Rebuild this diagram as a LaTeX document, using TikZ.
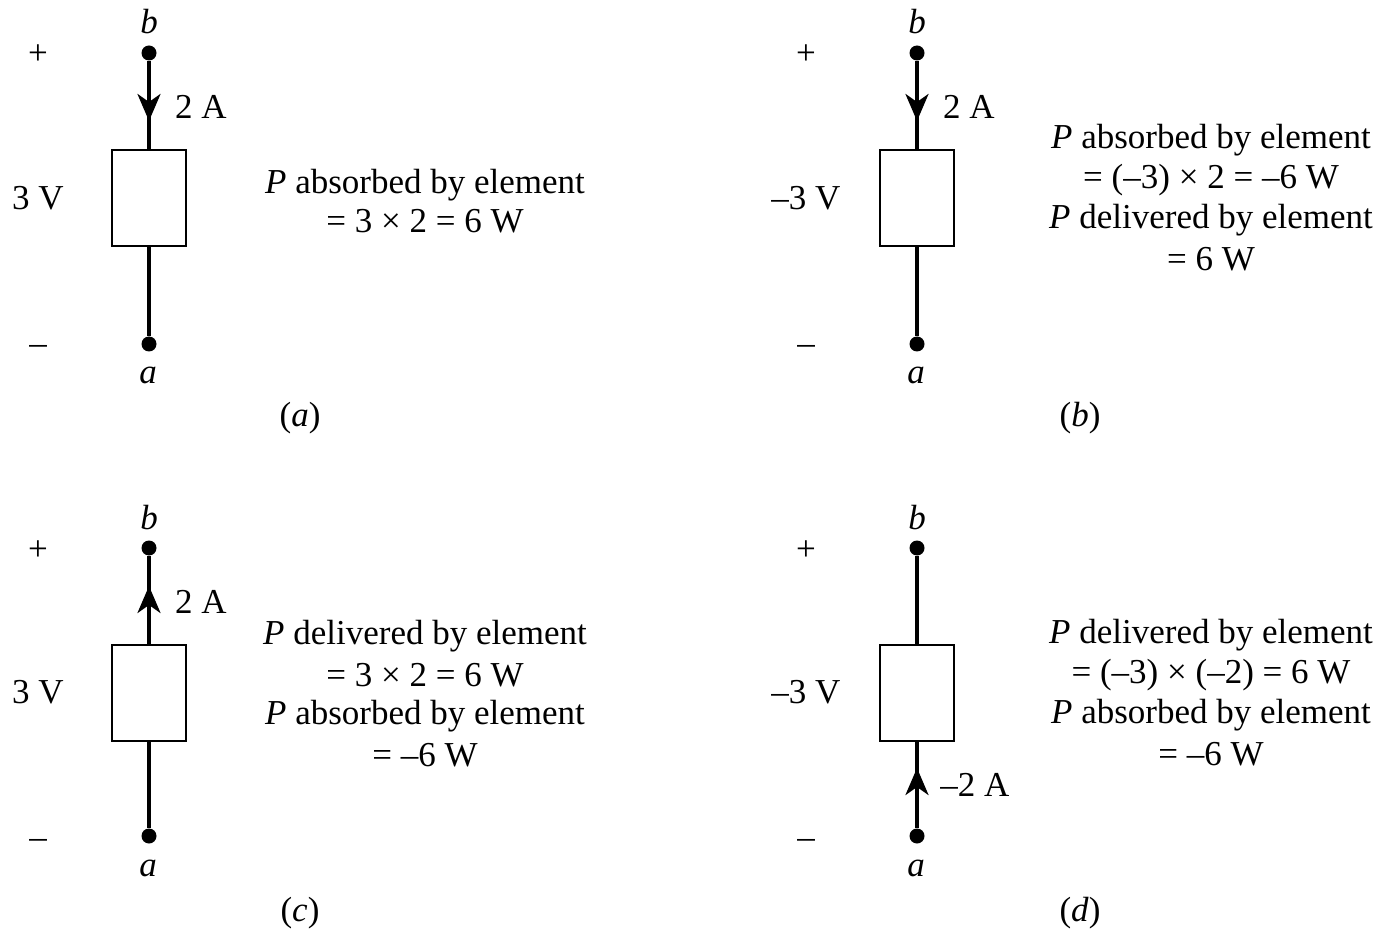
\documentclass[tikz,border=0pt]{standalone}
\usepackage{fontspec}
\setmainfont{Liberation Serif}
\usetikzlibrary{arrows.meta}
\begin{document}
\begin{tikzpicture}[x=1pt,y=-1pt,
  wire/.style={line width=3.6pt},
  elem/.style={draw,line width=2pt,minimum width=74pt,minimum height=96pt,inner sep=0pt},
  term/.style={circle,fill=black,minimum size=15pt,inner sep=0pt},
  lbl/.style={font=\fontsize{35}{40}\selectfont,inner sep=0pt},
  sgn/.style={font=\fontsize{35}{40}\selectfont,inner sep=0pt,anchor=base},
  txt/.style={font=\fontsize{35}{40}\selectfont,inner sep=0pt,align=center},
  arr/.style={line width=3.6pt,-{Stealth[length=27pt,width=23pt,inset=8pt]}}]
\useasboundingbox (0,0) rectangle (1382,933);
% ---------- (a)
\node[term] (ba) at (149,53) {};
\node[elem] (ea) at (149,198) {};
\node[term] (aa) at (149,344) {};
\coordinate (tipa) at (149,121);
\draw[wire] (ba) -- (ea.north);
\draw[arr] (ba) -- (tipa);
\draw[wire] (ea.south) -- (aa);
\node[lbl] (lba) at (149,22) {\textit{b}};
\node[lbl] (laa) at (148,375) {\textit{a}};
\node[lbl] (ia) at (201,107) {2 A};
\node[sgn] (pa) at (38,65) {+};
\node[lbl] (va) at (38,198) {3 V};
\node[sgn] (ma) at (38,355) {–};
\node[lbl] (capa) at (300,418) {(\textit{a})};
\node[txt] (ta1) at (425,185) {\textit{P} absorbed by element};
\node[txt] (ta2) at (425,221) {= 3 × 2 = 6 W};
% ---------- (b)
\node[term] (bb) at (917,53) {};
\node[elem] (eb) at (917,198) {};
\node[term] (ab) at (917,344) {};
\coordinate (tipb) at (917,121);
\draw[wire] (bb) -- (eb.north);
\draw[arr] (bb) -- (tipb);
\draw[wire] (eb.south) -- (ab);
\node[lbl] (lbb) at (917,22) {\textit{b}};
\node[lbl] (lab) at (916,375) {\textit{a}};
\node[lbl] (ib) at (969,107) {2 A};
\node[sgn] (pb) at (806,65) {+};
\node[lbl] (vb) at (806,198) {–3 V};
\node[sgn] (mb) at (806,355) {–};
\node[lbl] (capb) at (1080,418) {(\textit{b})};
\node[txt] (tb1) at (1211,140) {\textit{P} absorbed by element};
\node[txt] (tb2) at (1211,180) {= (–3) × 2 = –6 W};
\node[txt] (tb3) at (1211,220) {\textit{P} delivered by element};
\node[txt] (tb4) at (1211,259) {= 6 W};
% ---------- (c)
\node[term] (bc) at (149,548) {};
\node[elem] (ec) at (149,693) {};
\node[term] (ac) at (149,836) {};
\coordinate (tipc) at (149,586);
\draw[wire] (bc) -- (ec.north);
\draw[arr] (ec.north) -- (tipc);
\draw[wire] (ec.south) -- (ac);
\node[lbl] (lbc) at (149,518) {\textit{b}};
\node[lbl] (lac) at (148,868) {\textit{a}};
\node[lbl] (ic) at (201,602) {2 A};
\node[sgn] (pc) at (38,560) {+};
\node[lbl] (vc) at (38,692) {3 V};
\node[sgn] (mc) at (38,848) {–};
\node[lbl] (capc) at (300,913) {(\textit{c})};
\node[txt] (tc1) at (425,636) {\textit{P} delivered by element};
\node[txt] (tc2) at (425,675) {= 3 × 2 = 6 W};
\node[txt] (tc3) at (425,716) {\textit{P} absorbed by element};
\node[txt] (tc4) at (425,755) {= –6 W};
% ---------- (d)
\node[term] (bd) at (917,548) {};
\node[elem] (ed) at (917,693) {};
\node[term] (ad) at (917,836) {};
\coordinate (tipd) at (917,768);
\draw[wire] (bd) -- (ed.north);
\draw[wire] (ed.south) -- (ad);
\draw[arr] (ad) -- (tipd);
\node[lbl] (lbd) at (917,518) {\textit{b}};
\node[lbl] (lad) at (916,868) {\textit{a}};
\node[lbl] (id) at (975,785) {–2 A};
\node[sgn] (pd) at (806,560) {+};
\node[lbl] (vd) at (806,692) {–3 V};
\node[sgn] (md) at (806,848) {–};
\node[lbl] (capd) at (1080,913) {(\textit{d})};
\node[txt] (td1) at (1211,635) {\textit{P} delivered by element};
\node[txt] (td2) at (1211,675) {= (–3) × (–2) = 6 W};
\node[txt] (td3) at (1211,715) {\textit{P} absorbed by element};
\node[txt] (td4) at (1211,754) {= –6 W};
\end{tikzpicture}
\end{document}
